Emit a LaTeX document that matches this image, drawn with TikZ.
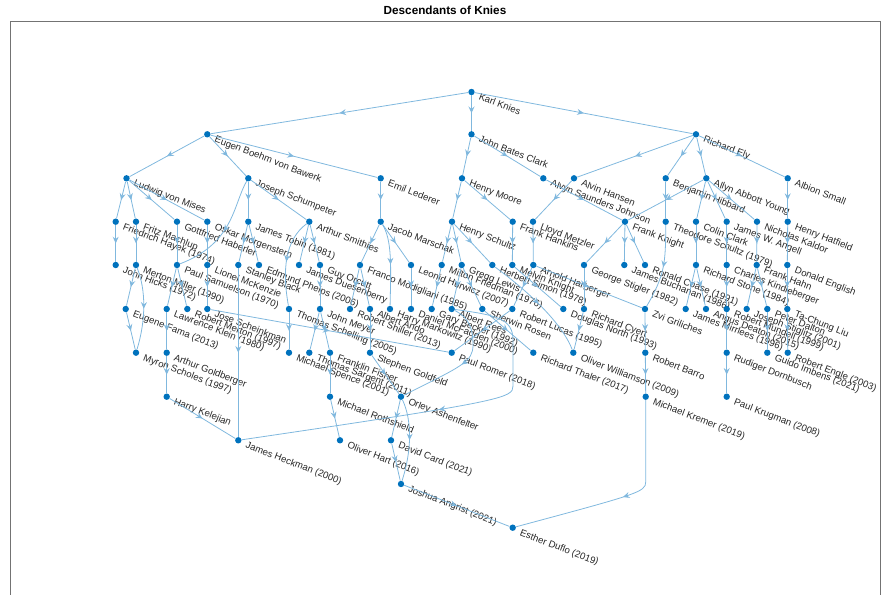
\documentclass[tikz,border=0pt]{standalone}
\usepackage{fontspec}
\setmainfont{Liberation Sans}
\usetikzlibrary{arrows.meta,decorations.markings}
\definecolor{mblue}{rgb}{0,0.447,0.741}
\definecolor{eblue}{RGB}{128,184,222}
\definecolor{labtext}{rgb}{0.15,0.15,0.15}
\tikzset{
 vert/.style={circle,fill=mblue,inner sep=0pt,minimum size=4.8pt},
 lab/.style={anchor=base west,rotate=-21,inner sep=0pt,font=\fontsize{7.2}{8}\selectfont,text=labtext},
 link/.style={draw=eblue,line width=0.6pt,postaction={decorate},decoration={markings,mark=at position 0.5 with {\arrow[eblue]{Stealth[length=5pt,width=4.5pt,inset=1.8pt]}}}},
}
\newcommand\gnode[4]{\node[vert] (#1) at (#2,#3) {}; \node[lab] (#1-l) at (#2+6.5,#3+7.5) {#4};}
\begin{document}
\begin{tikzpicture}[x=0.75pt,y=-0.75pt]
\useasboundingbox (0,0) rectangle (890,595);
\draw[black!55,line width=0.5pt] (10,600) -- (10,21) -- (880,21) -- (880,600);
\node[font=\bfseries\fontsize{8.8}{10}\selectfont] (title) at (445,10) {Descendants of Knies};
% layer 0
\gnode{knies}{471.5}{92}{Karl Knies}
% layer 1
\gnode{bawerk}{207.3}{134.3}{Eugen Boehm von Bawerk}
\gnode{jbclark}{471.5}{134.3}{John Bates Clark}
\gnode{ely}{696}{134.3}{Richard Ely}
% layer 2
\gnode{mises}{126.5}{178.3}{Ludwig von Mises}
\gnode{schump}{248.3}{178.3}{Joseph Schumpeter}
\gnode{lederer}{380.7}{178.3}{Emil Lederer}
\gnode{moore}{462}{178.3}{Henry Moore}
\gnode{asjohnson}{543.3}{178.3}{Alvyn Saunders Johnson}
\gnode{hansen}{574}{178.3}{Alvin Hansen}
\gnode{hibbard}{665.7}{178.3}{Benjamin Hibbard}
\gnode{young}{706.3}{178.3}{Allyn Abbott Young}
\gnode{small}{787.7}{178.3}{Albion Small}
% layer 3
\gnode{hayek}{115.7}{221.7}{Friedrich Hayek (1974)}
\gnode{machlup}{136}{221.7}{Fritz Machlup}
\gnode{haberler}{177}{221.7}{Gottfried Haberler}
\gnode{morgenstern}{207.3}{221.7}{Oskar Morgenstern}
\gnode{tobin}{248.3}{221.7}{James Tobin (1981)}
\gnode{smithies}{309.3}{221.7}{Arthur Smithies}
\gnode{marschak}{380.7}{221.7}{Jacob Marschak}
\gnode{hschultz}{452}{221.7}{Henry Schultz}
\gnode{hankins}{512.7}{221.7}{Frank Hankins}
\gnode{metzler}{533}{221.7}{Lloyd Metzler}
\gnode{knight}{625}{221.7}{Frank Knight}
\gnode{tschultz}{665.7}{221.7}{Theodore Schultz (1979)}
\gnode{cclark}{696}{221.7}{Colin Clark}
\gnode{angell}{726.7}{221.7}{James W. Angell}
\gnode{kaldor}{757}{221.7}{Nicholas Kaldor}
\gnode{hatfield}{787.7}{221.7}{Henry Hatfield}
% layer 4
\gnode{hicks}{115.7}{265}{John Hicks (1972)}
\gnode{miller}{136}{265}{Merton Miller (1990)}
\gnode{samuelson}{177}{265}{Paul Samuelson (1970)}
\gnode{mckenzie}{207.3}{265}{Lionel McKenzie}
\gnode{black}{238.3}{265}{Stanley Black}
\gnode{phelps}{259}{265}{Edmund Phelps (2006)}
\gnode{duesenberry}{299}{265}{James Duesenberry}
\gnode{orcutt}{320}{265}{Guy Orcutt}
\gnode{modigliani}{360}{265}{Franco Modigliani (1985)}
\gnode{hurwicz}{411}{265}{Leonid Hurwicz (2007)}
\gnode{friedman}{441.7}{265}{Milton Friedman (1976)}
\gnode{lewis}{461.7}{265}{Gregg Lewis}
\gnode{simon}{492.3}{265}{Herbert Simon (1978)}
\gnode{mknight}{512.3}{265}{Melvin Knight}
\gnode{harberger}{533.3}{265}{Arnold Harberger}
\gnode{stigler}{584}{265}{George Stigler (1982)}
\gnode{buchanan}{624.3}{265}{James Buchanan (1986)}
\gnode{coase}{645}{265}{Ronald Coase (1991)}
\gnode{stone}{696}{265}{Richard Stone (1984)}
\gnode{kindleberger}{726.7}{265}{Charles Kindleberger}
\gnode{hahn}{756.7}{265}{Frank Hahn}
\gnode{english}{787.3}{265}{Donald English}
% layer 5
\gnode{fama}{125.7}{309}{Eugene Fama (2013)}
\gnode{klein}{166.7}{309}{Lawrence Klein (1980)}
\gnode{merton}{187.3}{309}{Robert Merton (1997)}
\gnode{scheinkman}{207.3}{309}{Jose Scheinkman}
\gnode{schelling}{289}{309}{Thomas Schelling (2005)}
\gnode{meyer}{320}{309}{John Meyer}
\gnode{shiller}{350}{309}{Robert Shiller (2013)}
\gnode{ando}{370}{309}{Albert Ando}
\gnode{markowitz}{390}{309}{Harry Markowitz (1990)}
\gnode{mcfadden}{411}{309}{Daniel McFadden (2000)}
\gnode{becker}{431.7}{309}{Gary Becker (1992)}
\gnode{rees}{451.7}{309}{Albert Rees}
\gnode{rosen}{482.3}{309}{Sherwin Rosen}
\gnode{lucas}{512.3}{309}{Robert Lucas (1995)}
\gnode{north}{563.3}{309}{Douglas North (1993)}
\gnode{cyert}{584}{309}{Richard Cyert}
\gnode{griliches}{645}{309}{Zvi Griliches}
\gnode{mirrlees}{685.7}{309}{James Mirrlees (1996)}
\gnode{deaton}{706}{309}{Angus Deaton (2015)}
\gnode{mundell}{726.7}{309}{Robert Mundell (1999)}
\gnode{stiglitz}{746.7}{309}{Joseph Stiglitz (2001)}
\gnode{dalton}{767.3}{309}{Peter Dalton}
\gnode{liu}{787.3}{309}{Ta-Chung Liu}
% layer 6
\gnode{scholes}{136}{352.7}{Myron Scholes (1997)}
\gnode{goldberger}{166.7}{352.7}{Arthur Goldberger}
\gnode{spence}{289}{352.7}{Michael Spence (2001)}
\gnode{sargent}{309.3}{352.7}{Thomas Sargent (2011)}
\gnode{fisher}{330}{352.7}{Franklin Fisher}
\gnode{goldfeld}{370}{352.7}{Stephen Goldfeld}
\gnode{romer}{451.7}{352.7}{Paul Romer (2018)}
\gnode{thaler}{533.3}{352.7}{Richard Thaler (2017)}
\gnode{williamson}{573.3}{352.7}{Oliver Williamson (2009)}
\gnode{barro}{645.3}{352.7}{Robert Barro}
\gnode{dornbusch}{726.7}{352.7}{Rudiger Dornbusch}
\gnode{imbens}{767.3}{352.7}{Guido Imbens (2021)}
\gnode{engle}{787.7}{352.7}{Robert Engle (2003)}
% layer 7
\gnode{kelejian}{166.7}{396.7}{Harry Kelejian}
\gnode{rothschild}{330}{396.7}{Michael Rothshield}
\gnode{ashenfelter}{401}{396.7}{Orley Ashenfelter}
\gnode{kremer}{645.7}{396.7}{Michael Kremer (2019)}
\gnode{krugman}{726.7}{396.7}{Paul Krugman (2008)}
% layer 8
\gnode{heckman}{238.3}{440.3}{James Heckman (2000)}
\gnode{hart}{340}{440.3}{Oliver Hart (2016)}
\gnode{card}{391}{440.3}{David Card (2021)}
% layer 9, 10
\gnode{angrist}{401}{484}{Joshua Angrist (2021)}
\gnode{duflo}{512.7}{527.7}{Esther Duflo (2019)}
% edges
\foreach \a/\b in {knies/bawerk,knies/jbclark,knies/ely,
 bawerk/mises,bawerk/schump,bawerk/lederer,jbclark/moore,jbclark/asjohnson,
 ely/hansen,ely/hibbard,ely/young,ely/small,
 mises/hayek,mises/machlup,mises/haberler,mises/morgenstern,
 schump/tobin,schump/smithies,lederer/marschak,moore/hschultz,moore/hankins,
 asjohnson/knight,hansen/metzler,hibbard/tschultz,young/knight,young/cclark,
 young/angell,young/kaldor,small/hatfield,
 hayek/hicks,machlup/miller,haberler/samuelson,morgenstern/mckenzie,
 tobin/black,tobin/phelps,smithies/duesenberry,smithies/orcutt,
 marschak/modigliani,marschak/hurwicz,hschultz/friedman,hschultz/lewis,hschultz/simon,
 hankins/mknight,metzler/harberger,knight/stigler,knight/buchanan,knight/coase,
 cclark/stone,angell/kindleberger,kaldor/hahn,hatfield/english,
 miller/fama,samuelson/klein,samuelson/merton,mckenzie/scheinkman,
 orcutt/meyer,modigliani/shiller,modigliani/ando,hurwicz/mcfadden,friedman/becker,
 lewis/rees,lewis/rosen,harberger/lucas,mknight/north,stigler/cyert,harberger/griliches,
 stone/mirrlees,stone/deaton,kindleberger/mundell,hahn/stiglitz,hahn/dalton,english/liu,
 fama/scholes,klein/goldberger,schelling/spence,meyer/sargent,meyer/fisher,ando/goldfeld,
 scheinkman/romer,lucas/romer,rosen/thaler,cyert/williamson,griliches/barro,
 mundell/dornbusch,dalton/imbens,liu/engle,
 goldberger/kelejian,fisher/rothschild,goldfeld/ashenfelter,barro/kremer,dornbusch/krugman,
 kelejian/heckman,black/heckman,rothschild/hart,ashenfelter/card,card/angrist,angrist/duflo}
 {\draw[link] (\a) -- (\b);}
% multi-layer edges
\draw[link] (schump) .. controls (233,205) and (234,243) .. (samuelson);
\draw[link] (marschak) .. controls (392,240) and (391,265) .. (markowitz);
\draw[link] (miller) .. controls (146,290) and (146,320) .. (scholes);
\draw[link] (smithies) .. controls (285,240) and (282,270) .. (schelling);
\draw[link] (tschultz) .. controls (665.7,262) and (665,275) .. (griliches);
\draw[link] (simon) .. controls (540,300) and (565,330) .. (williamson);
\draw[link] (rees) .. controls (470,318) and (473,330) .. (473,345) .. controls (473,362) and (462,366) .. (ashenfelter);
\draw[link] (rees) .. controls (495,315) and (513,318) .. (513,340) -- (513,386) .. controls (513,398) and (505,401) .. (heckman);
\draw[link] (ashenfelter) .. controls (412,420) and (412,450) .. (angrist);
\draw[link] (kremer) -- (645.7,482) .. controls (645.7,492) and (638,494) .. (duflo);
\end{tikzpicture}
\end{document}
